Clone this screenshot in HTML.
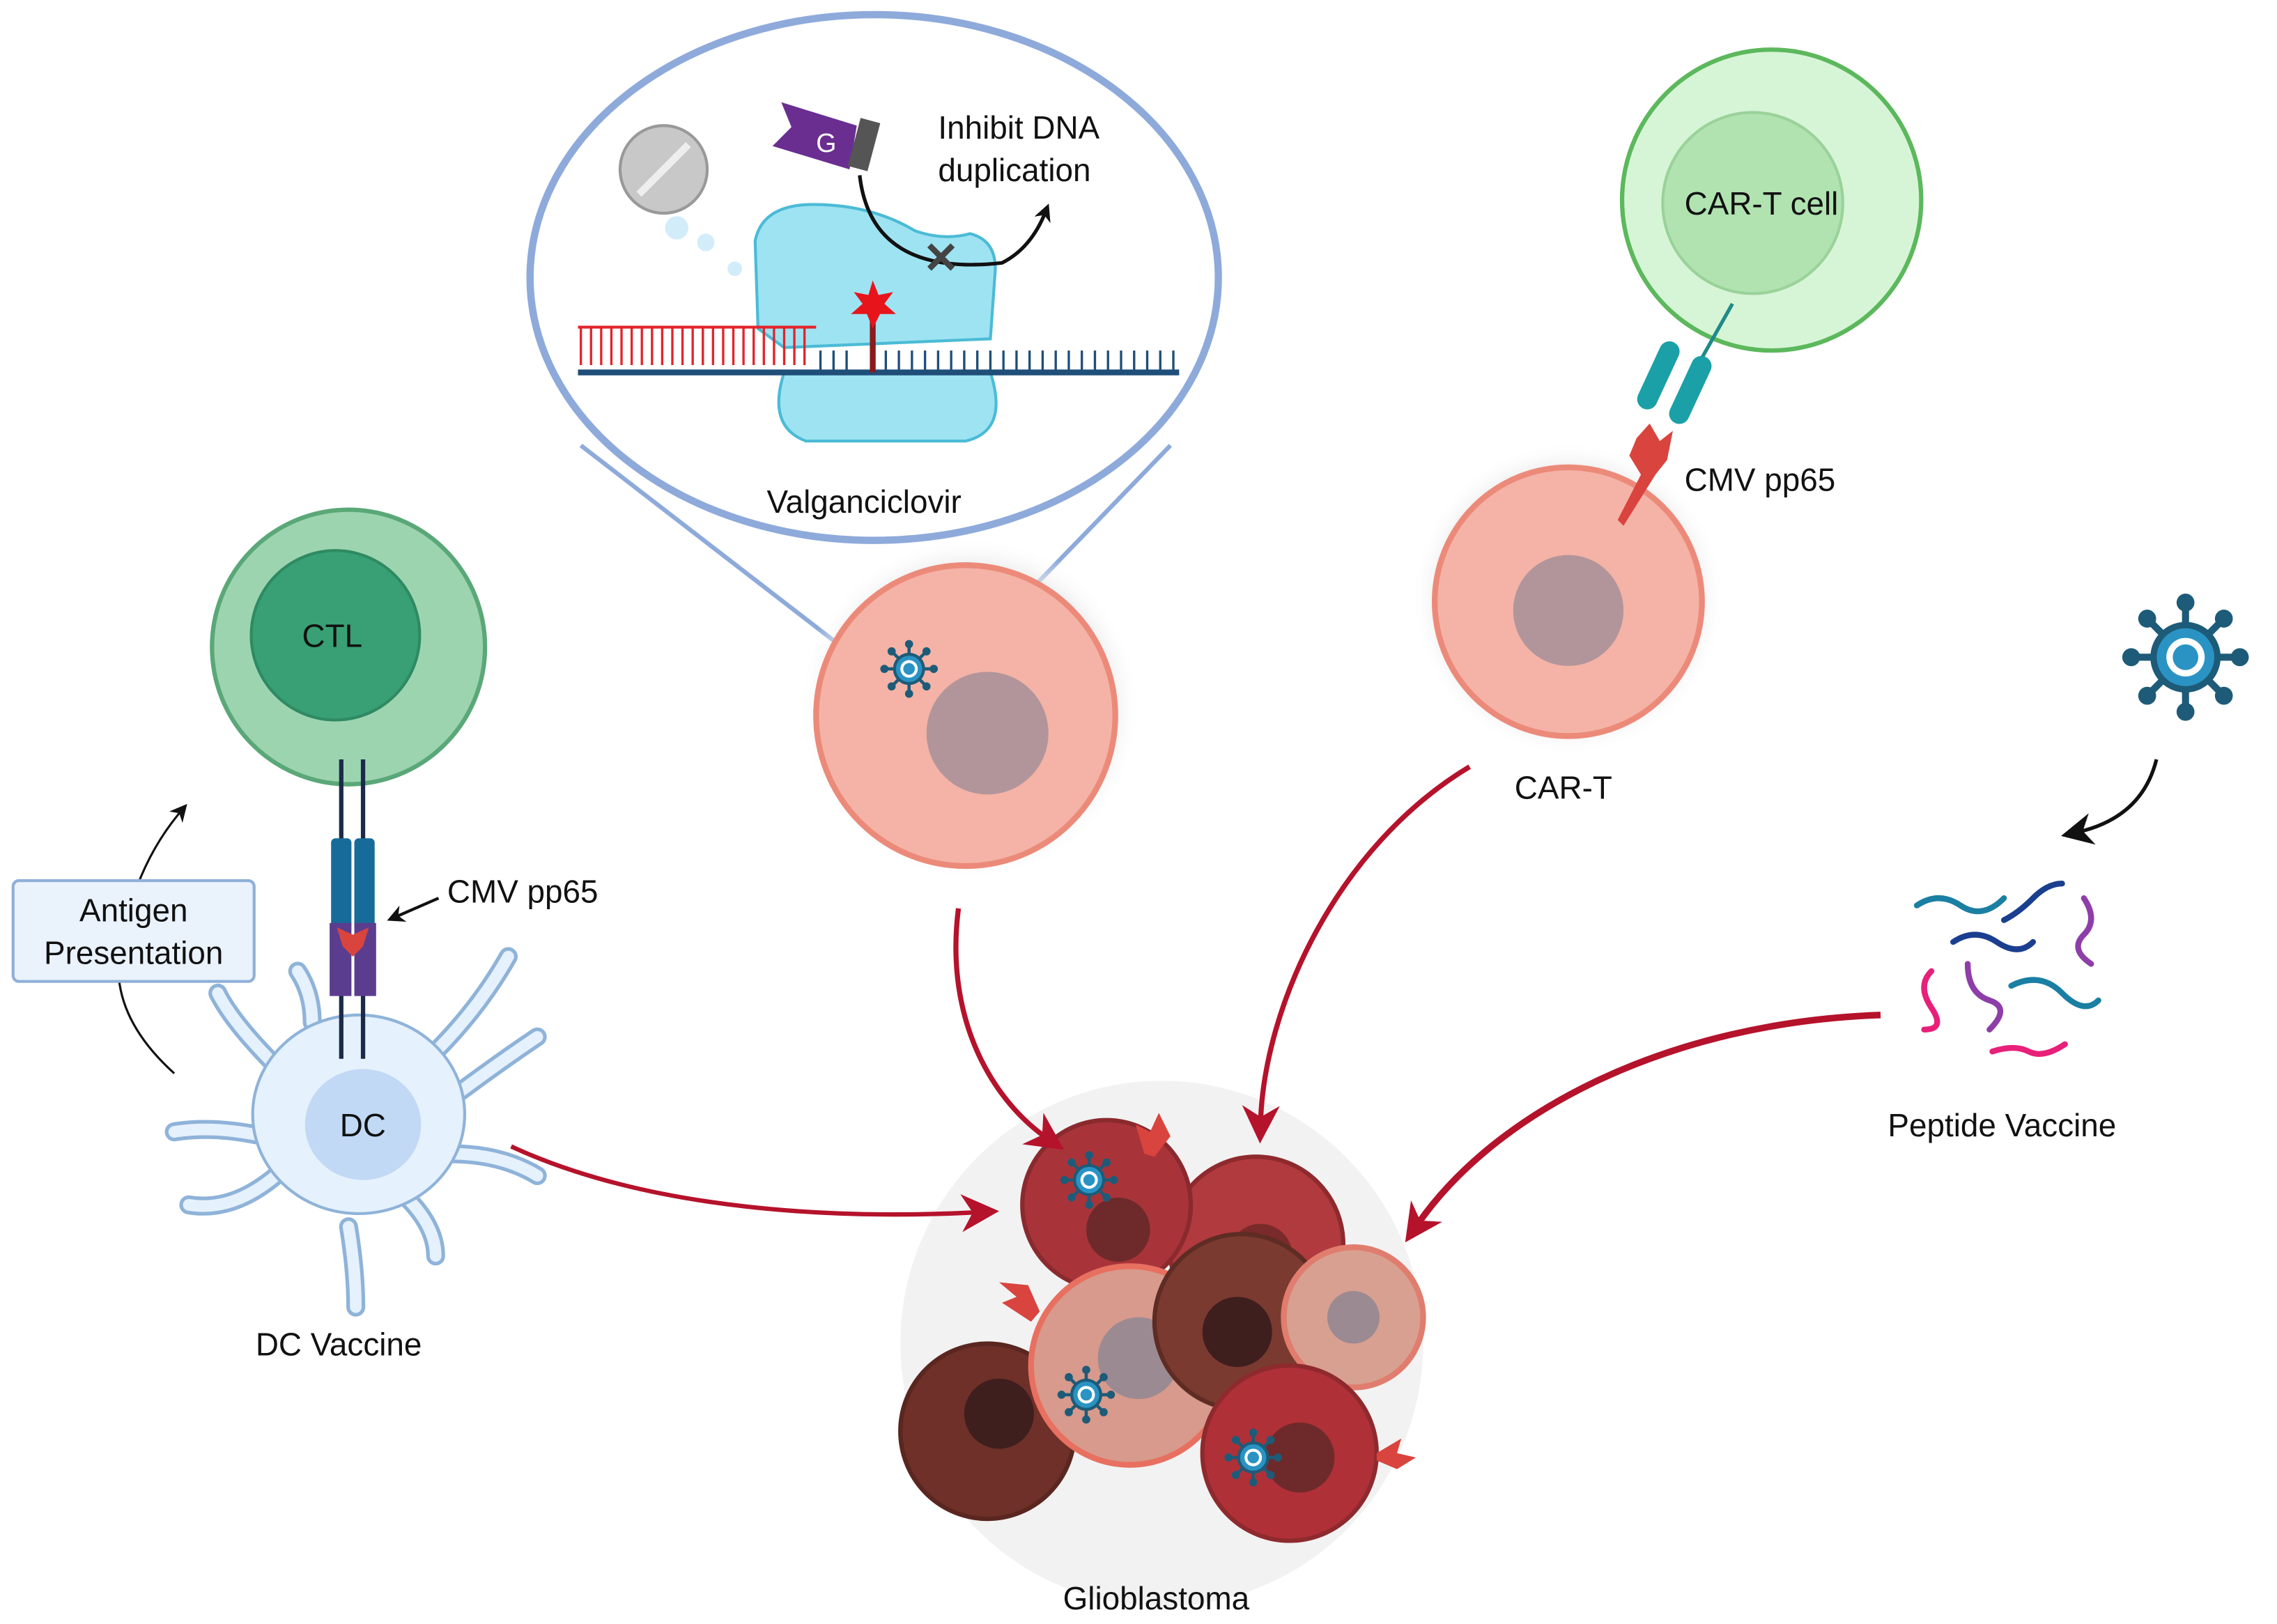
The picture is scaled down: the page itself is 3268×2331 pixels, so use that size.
<!DOCTYPE html>
<html><head><meta charset="utf-8"><style>
html,body{margin:0;padding:0;background:#fff;}
svg{display:block;}
text{font-family:"Liberation Sans",sans-serif;fill:#111;}
</style></head><body>
<svg width="3268" height="2331" viewBox="0 0 1568 1112" preserveAspectRatio="none" xmlns="http://www.w3.org/2000/svg">
<defs>
<marker id="rr" viewBox="0 0 10 10" refX="5" refY="5" markerWidth="26" markerHeight="26" orient="auto" markerUnits="userSpaceOnUse">
<path d="M0,0 L10,5 L0,10 L3,5 z" fill="#b5122b"/></marker>
<marker id="bk" viewBox="0 0 10 10" refX="5" refY="5" markerWidth="12" markerHeight="12" orient="auto" markerUnits="userSpaceOnUse">
<path d="M0,0 L10,5 L0,10 L3,5 z" fill="#111"/></marker>
<marker id="bk2" viewBox="0 0 10 10" refX="5" refY="5" markerWidth="22" markerHeight="22" orient="auto" markerUnits="userSpaceOnUse">
<path d="M0,0 L10,5 L0,10 L3,5 z" fill="#111"/></marker>
<radialGradient id="halo"><stop offset="0.75" stop-color="#ddd"/><stop offset="1" stop-color="#fff" stop-opacity="0"/></radialGradient>
<g id="vir">
<g stroke="#1d5b78" stroke-width="2.2">
<line x1="-17" y1="0" x2="17" y2="0"/><line x1="0" y1="-17" x2="0" y2="17"/>
<line x1="-12" y1="-12" x2="12" y2="12"/><line x1="-12" y1="12" x2="12" y2="-12"/>
</g>
<g fill="#1d5b78"><circle cx="-17" cy="0" r="2.8"/><circle cx="17" cy="0" r="2.8"/><circle cx="0" cy="-17" r="2.8"/><circle cx="0" cy="17" r="2.8"/><circle cx="-12" cy="-12" r="2.8"/><circle cx="12" cy="12" r="2.8"/><circle cx="-12" cy="12" r="2.8"/><circle cx="12" cy="-12" r="2.8"/></g>
<circle r="10" fill="#2a93c4" stroke="#1d5b78" stroke-width="2"/>
<circle r="6" fill="#fff"/><circle r="4" fill="#2a93c4"/>
</g>
</defs>

<line x1="400" y1="305" x2="628" y2="480" stroke="#8eaadb" stroke-width="3"/>
<line x1="806" y1="305" x2="660" y2="455" stroke="#8eaadb" stroke-width="3"/>

<circle cx="668" cy="485" r="118" fill="url(#halo)"/>
<circle cx="665" cy="490" r="103" fill="#f4b3a6" stroke="#ec8a7a" stroke-width="4"/>
<circle cx="680" cy="502" r="42" fill="#b2959a"/>
<use href="#vir" x="626" y="458"/>

<ellipse cx="602" cy="190" rx="237" ry="180" fill="#fff" stroke="#8eaadb" stroke-width="5"/>
<circle cx="457" cy="116" r="30" fill="#c8c8c8" stroke="#999" stroke-width="2"/>
<line x1="440" y1="133" x2="474" y2="99" stroke="#eee" stroke-width="5"/>
<circle cx="466" cy="156" r="8" fill="#d3ecfa"/><circle cx="486" cy="166" r="6" fill="#d3ecfa"/><circle cx="506" cy="184" r="5" fill="#d3ecfa"/>
<path d="M538,70 L590,86 L585,116 L532,100 L545,87 z" fill="#6a2e91"/>
<rect x="588" y="82" width="14" height="34" fill="#555" transform="rotate(15 595 99)"/>
<text x="562" y="104" font-size="18" style="fill:#fff">G</text>
<path d="M520,165 Q525,140 560,140 Q600,140 630,158 Q650,165 668,160 Q688,165 685,190 L682,232 L540,238 L522,225 z" fill="#9ee3f2" stroke="#4bbbd6" stroke-width="2"/>
<path d="M540,255 L682,255 Q695,295 665,302 L555,302 Q528,292 540,255 z" fill="#9ee3f2" stroke="#4bbbd6" stroke-width="2"/>
<line x1="398" y1="224" x2="562" y2="224" stroke="#e3242b" stroke-width="2"/>
<path d="M400,224 V250 M407,224 V250 M414,224 V250 M421,224 V250 M428,224 V250 M435,224 V250 M442,224 V250 M449,224 V250 M456,224 V250 M463,224 V250 M470,224 V250 M477,224 V250 M484,224 V250 M491,224 V250 M498,224 V250 M505,224 V250 M512,224 V250 M519,224 V250 M526,224 V250 M533,224 V250 M540,224 V250 M547,224 V250 M554,224 V250" stroke="#e3242b" stroke-width="1.6"/>
<line x1="398" y1="255" x2="812" y2="255" stroke="#1f4e79" stroke-width="4"/>
<path d="M565,240 V255 M574,240 V255 M583,240 V255 M610,240 V255 M619,240 V255 M628,240 V255 M637,240 V255 M646,240 V255 M655,240 V255 M664,240 V255 M673,240 V255 M682,240 V255 M691,240 V255 M700,240 V255 M709,240 V255 M718,240 V255 M727,240 V255 M736,240 V255 M745,240 V255 M754,240 V255 M763,240 V255 M772,240 V255 M781,240 V255 M790,240 V255 M799,240 V255 M808,240 V255" stroke="#1f4e79" stroke-width="1.6"/>
<line x1="601" y1="255" x2="601" y2="215" stroke="#8b1a1a" stroke-width="4"/>
<polygon points="601,192 605,202 615,200 609,208 617,215 606,215 601,225 597,215 586,215 594,208 588,200 598,202" fill="#e8141c"/>
<path d="M592,120 Q600,190 690,180 Q710,170 720,145" fill="none" stroke="#111" stroke-width="2.5" marker-end="url(#bk)"/>
<path d="M640,168 L656,184 M656,168 L640,184" stroke="#444" stroke-width="4"/>
<text x="646" y="95" font-size="22">Inhibit DNA</text>
<text x="646" y="124" font-size="22">duplication</text>
<text x="528" y="351" font-size="22">Valganciclovir</text>

<circle cx="1220" cy="137" r="103" fill="#d6f5d6" stroke="#5cb85c" stroke-width="3"/>
<circle cx="1207" cy="139" r="62" fill="#b1e3b1" stroke="#9ad29a" stroke-width="2"/>
<text x="1160" y="147" font-size="22">CAR-T cell</text>
<line x1="1193" y1="208" x2="1172" y2="245" stroke="#1f8a8a" stroke-width="2.5"/>
<rect x="1135" y="232" width="14" height="50" rx="7" fill="#1aa0a6" transform="rotate(25 1142 257)"/>
<rect x="1157" y="242" width="14" height="50" rx="7" fill="#1aa0a6" transform="rotate(25 1164 267)"/>
<circle cx="1080" cy="410" r="108" fill="url(#halo)"/>
<circle cx="1080" cy="412" r="92" fill="#f4b3a6" stroke="#ec8a7a" stroke-width="4"/>
<circle cx="1080" cy="418" r="38" fill="#b2959a"/>
<path d="M1127,300 L1136,290 L1143,302 L1152,295 L1148,315 L1140,325 L1118,360 L1114,356 L1130,325 L1122,312 z" fill="#d9443e"/>
<text x="1160" y="336" font-size="22">CMV pp65</text>
<text x="1043" y="547" font-size="22">CAR-T</text>

<g transform="translate(1505,450) scale(2.2)"><use href="#vir"/></g>
<path d="M1485,520 Q1475,560 1430,570" fill="none" stroke="#111" stroke-width="2.5" marker-end="url(#bk2)"/>

<g fill="none" stroke-width="4" stroke-linecap="round">
<path d="M1320,620 q15,-10 30,0 t30,-5" stroke="#1a7fa3"/>
<path d="M1380,630 q10,-5 20,-15 t20,-10" stroke="#1b3f8f"/>
<path d="M1345,645 q15,-10 30,0 t25,0" stroke="#1b3f8f"/>
<path d="M1435,615 q10,15 0,25 t5,20" stroke="#8e3ea8"/>
<path d="M1330,665 q-10,10 0,25 t-5,15" stroke="#e8207a"/>
<path d="M1355,660 q0,20 15,25 t0,20" stroke="#8e3ea8"/>
<path d="M1385,675 q20,-10 35,5 t25,5" stroke="#1a7fa3"/>
<path d="M1372,720 q15,-5 25,0 t25,-5" stroke="#e8207a"/>
</g>
<text x="1300" y="778" font-size="22">Peptide Vaccine</text>

<circle cx="240" cy="443" r="94" fill="#9dd4b0" stroke="#5aa878" stroke-width="3"/>
<circle cx="231" cy="435" r="58" fill="#38a074" stroke="#2e8a63" stroke-width="2"/>
<text x="208" y="443" font-size="22">CTL</text>

<g fill="none" stroke-linecap="round">
<g stroke="#8fb3d9" stroke-width="13">
<path d="M190,730 Q160,700 150,680"/><path d="M300,720 Q330,690 350,655"/><path d="M215,700 Q215,680 205,665"/>
<path d="M190,780 Q150,770 120,775"/><path d="M310,790 Q345,790 370,805"/><path d="M300,760 Q340,730 370,710"/>
<path d="M190,805 Q160,830 130,825"/><path d="M240,840 Q245,870 245,895"/><path d="M280,820 Q300,840 300,860"/>
</g>
<g stroke="#e5f1fc" stroke-width="8">
<path d="M190,730 Q160,700 150,680"/><path d="M300,720 Q330,690 350,655"/><path d="M215,700 Q215,680 205,665"/>
<path d="M190,780 Q150,770 120,775"/><path d="M310,790 Q345,790 370,805"/><path d="M300,760 Q340,730 370,710"/>
<path d="M190,805 Q160,830 130,825"/><path d="M240,840 Q245,870 245,895"/><path d="M280,820 Q300,840 300,860"/>
</g>
</g>
<ellipse cx="247" cy="763" rx="73" ry="68" fill="#e5f1fc" stroke="#8fb3d9" stroke-width="2"/>
<ellipse cx="250" cy="770" rx="40" ry="38" fill="#c1d9f5"/>
<text x="234" y="778" font-size="22">DC</text>
<text x="176" y="928" font-size="22">DC Vaccine</text>
<line x1="235" y1="520" x2="235" y2="725" stroke="#1b2a4a" stroke-width="3"/>
<line x1="250" y1="520" x2="250" y2="725" stroke="#1b2a4a" stroke-width="3"/>
<rect x="228" y="574" width="14" height="62" rx="3" fill="#176b98"/>
<rect x="244" y="574" width="14" height="62" rx="3" fill="#176b98"/>
<rect x="227" y="632" width="15" height="50" fill="#5b3d8f"/>
<rect x="244" y="632" width="15" height="50" fill="#5b3d8f"/>
<path d="M232,635 L243,640 L254,635 L250,648 L243,655 L236,648 z" fill="#d9443e"/>
<line x1="302" y1="615" x2="272" y2="628" stroke="#111" stroke-width="2" marker-end="url(#bk)"/>
<text x="308" y="618" font-size="22">CMV pp65</text>
<path d="M120,735 Q70,690 85,640 Q95,590 125,555" fill="none" stroke="#111" stroke-width="1.5" marker-end="url(#bk)"/>
<rect x="9" y="603" width="166" height="69" rx="4" fill="#eaf2fc" stroke="#8fb0d8" stroke-width="2"/>
<text x="92" y="631" font-size="22" text-anchor="middle">Antigen</text>
<text x="92" y="660" font-size="22" text-anchor="middle">Presentation</text>

<!-- Glioblastoma cluster -->
<circle cx="800" cy="920" r="180" fill="#f2f2f2"/>
<circle cx="865" cy="852" r="60" fill="#b03a3e" stroke="#8e2a2e" stroke-width="3"/>
<circle cx="868" cy="860" r="22" fill="#7a2a2a"/>
<circle cx="762" cy="825" r="58" fill="#a8343a" stroke="#8a2a2e" stroke-width="3"/>
<circle cx="770" cy="842" r="22" fill="#6e2a2a"/>
<circle cx="680" cy="980" r="60" fill="#6e3028" stroke="#5a2620" stroke-width="3"/>
<circle cx="688" cy="968" r="24" fill="#3f1e1e"/>
<circle cx="778" cy="935" r="68" fill="#d79a8c" stroke="#e87060" stroke-width="4"/>
<circle cx="784" cy="930" r="28" fill="#9b8a92"/>
<circle cx="855" cy="905" r="60" fill="#7a3a30" stroke="#5e2c24" stroke-width="3"/>
<circle cx="852" cy="912" r="24" fill="#3f1e1e"/>
<circle cx="932" cy="902" r="48" fill="#d8a090" stroke="#e07d6e" stroke-width="4"/>
<circle cx="932" cy="902" r="18" fill="#9b8a92"/>
<circle cx="888" cy="995" r="60" fill="#b03038" stroke="#8e2a2e" stroke-width="3"/>
<circle cx="895" cy="998" r="24" fill="#6e2a2a"/>
<use href="#vir" x="750" y="808"/>
<use href="#vir" x="748" y="955"/>
<use href="#vir" x="863" y="998"/>
<path d="M788,790 L782,770 L792,775 L798,762 L806,778 L795,792 z" fill="#d9443e"/>
<path d="M710,905 L690,892 L700,888 L688,878 L708,880 L716,898 z" fill="#d9443e"/>
<path d="M948,995 L965,985 L962,995 L975,998 L962,1006 L948,1000 z" fill="#d9443e"/>
<text x="732" y="1102" font-size="22">Glioblastoma</text>

<!-- red arrows (on top) -->
<g fill="none" stroke="#b5122b">
<path d="M660,622 C650,700 685,755 722,780" stroke-width="3.5" marker-end="url(#rr)"/>
<path d="M1012,525 C920,580 870,690 868,770" stroke-width="3.5" marker-end="url(#rr)"/>
<path d="M1295,695 C1150,700 1030,760 975,840" stroke-width="4.5" marker-end="url(#rr)"/>
<path d="M352,785 C450,830 580,835 675,830" stroke-width="3" marker-end="url(#rr)"/>
</g>
</svg>
</body></html>
